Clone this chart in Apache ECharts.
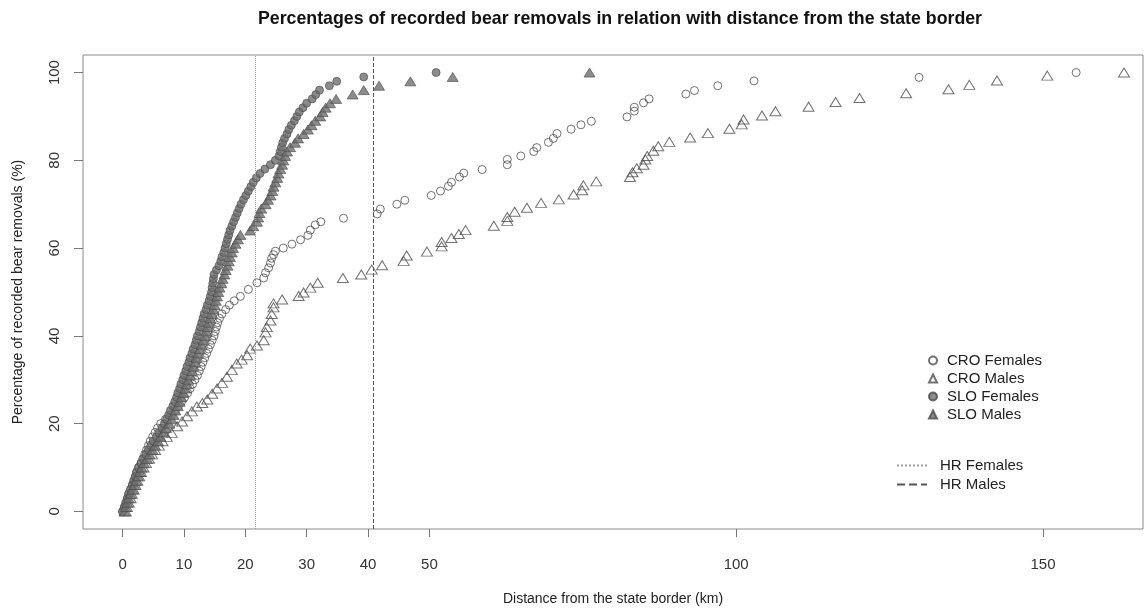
<!DOCTYPE html>
<html>
<head>
<meta charset="utf-8">
<script src="https://cdn.jsdelivr.net/npm/echarts@6/dist/echarts.min.js"></script>
<style>
  html, body { margin: 0; padding: 0; background: #fff; }
  #chart { width: 1144px; height: 611px; }
</style>
</head>
<body>
<div id="chart"></div>
<script>
// x tick labels (km) and y tick labels (%)
const xTicks = [0, 10, 20, 30, 40, 50, 100, 150];
const yTicks = [0, 20, 40, 60, 80, 100];

// home-range reference lines (km)
const hrFemales = 21.6;
const hrMales = 40.9;

// [distance km, cumulative %]
const croFemales = [
  [0,0],[0.3,1],[0.5,2],[0.8,3],[1,4],[1.3,5],[1.6,6],[1.8,7],[2.1,8],[2.3,9],[2.6,10],
  [3,11],[3.3,12],[3.6,13],[3.9,14],[4.2,15],[4.5,16],[4.9,17],[5.3,18],[5.7,19],[6.2,20],
  [7,21],[8,22],[8.6,23],[9.1,24],[9.6,25],[10.1,26],[10.6,27],[11,28],[11.4,29],[11.8,30],
  [12.2,31],[12.5,32],[12.8,33],[13.1,34],[13.4,35],[13.7,36],[14,37],[14.3,38],[14.6,39],
  [14.9,40],[15.1,41],[15.3,42],[15.5,43],[15.8,44],[16.2,45],[16.8,46],[17.4,47],[18.2,48],
  [19.2,49],[20.5,50.6],[21.9,52.1],[23,53.2],[23.3,54.4],[23.8,55.5],[24.1,56.6],[24.3,57.7],
  [24.6,58.5],[24.9,59.3],[26.2,60],[27.6,60.9],[29,61.9],[30.2,62.9],[30.6,64.1],[31.4,65.3],
  [32.3,66],[36,66.8],[41.5,67.8],[42,68.9],[44.7,70],[46,70.9],[50.3,72],[51.8,73],[53.1,74.1],
  [53.6,75],[54.9,76.2],[55.6,77.1],[58.6,77.9],[62.7,79],[62.7,80.2],[64.9,81],[67,82],
  [67.5,82.9],[69.4,84.1],[70.2,85],[70.8,86.1],[73.1,87.1],[74.7,88.1],[76.4,88.9],[82.2,89.9],
  [83.4,91.2],[83.4,92.1],[84.9,93.1],[85.8,94],[91.8,95.1],[93.2,95.9],[97,97],[102.9,98.1],
  [129.8,98.9],[155.4,100]
];

const croMales = [
  [0.5,0],[0.7,1],[1,2],[1.3,3],[1.5,4],[1.8,5],[2.1,6],[2.4,7],[2.7,8],[3,9],[3.4,10],
  [3.8,11],[4.3,12],[4.8,13],[5.3,14],[5.9,15],[6.5,16],[7.2,17],[8,17.9],[8.9,19.4],
  [9.7,20.5],[10.5,21.7],[11.3,22.8],[12.1,23.9],[13,24.7],[13.8,25.5],[14.6,26.8],[15.4,28],
  [16.2,29.3],[17,30.7],[17.8,32.2],[18.6,33.7],[19.4,34.6],[20.3,35.6],[20.8,37.1],[21.9,37.8],
  [23,39],[23.3,40.8],[23.5,42],[24.1,43.5],[24.3,45],[24.6,46.5],[24.6,47.4],[26,48.3],
  [28.7,49.1],[29.5,49.9],[30.6,51],[31.8,52.1],[35.9,53.2],[38.9,54],[40.6,55.1],[42.3,56.1],
  [45.8,57.1],[46.3,58.3],[49.6,59.2],[52,60.4],[52,61.4],[53.6,62.3],[54.8,63.2],[55.9,64.1],
  [60.5,65.1],[62.7,66.2],[62.7,67.1],[63.9,68.3],[65.9,69.2],[68.2,70.3],[71.1,71.1],[73.5,72.2],
  [74.9,73.2],[75.1,74.3],[77.2,75.2],[82.7,76.2],[83.1,77.3],[83.8,78.2],[84.9,79],[85.2,80.2],
  [85.5,81],[86.5,82.2],[87.3,83.2],[89.1,84.2],[92.5,85.2],[95.4,86.2],[98.9,87.2],[100.9,88.2],
  [101.2,89.3],[104.2,90.2],[106.4,91.2],[111.8,92.2],[116.2,93.3],[120.1,94.2],[127.7,95.3],
  [134.6,96.2],[138,97.2],[142.5,98.2],[150.7,99.3],[163.2,100]
];

const sloFemales = [
  [0,0],[0.3,1],[0.6,2],[0.8,3],[1,4],[1.3,5],[1.6,6],[1.9,7],[2.1,8],[2.3,9],[2.6,10],
  [3,11],[3.4,12],[3.8,13],[4.2,14],[4.6,15],[5,16],[5.5,17],[5.9,18],[6.4,19],[6.8,20],
  [7.2,21],[7.5,22],[7.8,23],[8.2,24],[8.5,25],[8.8,26],[9,27],[9.3,28],[9.5,29],[9.8,30],
  [10,31],[10.3,32],[10.5,33],[10.8,34],[11,35],[11.3,36],[11.5,37],[11.8,38],[12,39],[12.2,40],
  [12.5,41],[12.7,42],[12.9,43],[13.1,44],[13.3,45],[13.6,46],[13.8,47],[14.1,48],[14.3,49],
  [14.5,50],[14.6,51],[14.7,52],[14.8,53],[14.9,54],[15.3,55],[15.7,56],[16,57],[16.2,58],
  [16.5,59],[16.7,60],[16.9,61],[17.1,62],[17.3,63],[17.5,64],[17.8,65],[18.1,66],[18.4,67],
  [18.7,68],[19,69],[19.3,70],[19.7,71],[20.1,72],[20.5,73],[20.9,74],[21.3,75],[21.8,76],
  [22.4,77],[23.2,78],[24.1,79],[24.9,80],[25.5,81],[25.7,82],[25.9,83],[26.1,84],[26.4,85],
  [26.8,86],[27.1,87],[27.5,88],[28,89],[28.4,90],[28.8,91],[29.4,92],[30,93],[30.9,94],
  [31.5,95],[32.1,96],[33.7,97],[34.9,98],[39.3,99],[51.1,100]
];

const sloMales = [
  [0.3,0],[0.5,1],[0.8,2],[1,3],[1.3,4],[1.6,5],[1.9,6],[2.2,7],[2.5,8],[2.8,9],[3.1,10],
  [3.5,11],[4,12],[4.4,13],[4.9,14],[5.3,15],[5.8,16],[6.2,17],[6.7,18],[7.1,19],[7.6,20],
  [8,21],[8.3,22],[8.6,23],[9,24],[9.3,25],[9.6,26],[9.9,27],[10.2,28],[10.5,29],[10.7,30],
  [11,31],[11.3,32],[11.5,33],[11.8,34],[12,35],[12.3,36],[12.6,37],[12.9,38],[13.2,39],
  [13.5,40],[13.7,41],[13.9,42],[14.1,43],[14.3,44],[14.6,45],[14.8,46],[15,47],[15.2,48],
  [15.4,49],[15.6,50],[15.8,51],[16.1,52],[16.3,53],[16.6,54],[16.8,55],[17.1,56],[17.3,57],
  [17.5,58],[17.8,59],[18,60],[18.4,61],[18.8,62],[19.2,63],[20.8,64],[21.3,65],[21.9,66],
  [22.1,67],[22.3,68],[22.6,69],[23.3,70],[23.7,71],[24.1,72],[24.4,73],[24.6,74],[24.9,75],
  [25.2,76],[25.4,77],[25.7,78],[26,79],[26.2,80],[26.5,81],[26.8,82],[27.3,83],[28.1,84],
  [28.6,85],[29.5,86],[30.2,87],[30.8,88],[31.4,89],[32.2,90],[32.6,91],[33.1,92],[33.8,93],
  [34.8,94],[37.5,95],[39.3,96],[41.8,97],[46.9,98],[53.8,99],[76.1,100]
];

const FONT = '"Liberation Sans", Arial, sans-serif';

let chart = echarts.init(document.getElementById('chart'));

function openSeries(name, data, symbol, size) {
    return {
        name: name,
        type: 'scatter',
        data: data,
        symbol: symbol,
        symbolSize: size,
        itemStyle: { color: 'rgba(255,255,255,0)', borderColor: '#4d4d4d', borderWidth: 1 },
        emphasis: { disabled: true },
        z: 3
    };
}

function filledSeries(name, data, symbol, size) {
    return {
        name: name,
        type: 'scatter',
        data: data,
        symbol: symbol,
        symbolSize: size,
        itemStyle: { color: '#6f6f6f', borderColor: '#4a4a4a', borderWidth: 0.8 },
        emphasis: { disabled: true },
        z: 4
    };
}

function hrSeries(name, value, type, color) {
    return {
        name: name,
        type: 'line',
        data: [],
        symbol: 'none',
        itemStyle: { color: color },
        lineStyle: { type: type, color: color, width: 1 },
        markLine: {
            silent: true,
            symbol: 'none',
            label: { show: false },
            lineStyle: { type: type, color: color, width: 1 },
            data: [{ xAxis: value }]
        },
        z: 2
    };
}

chart.setOption({
    animation: false,
    textStyle: { fontFamily: FONT },
    title: {
        text: 'Percentages of recorded bear removals in relation with distance from the state border',
        left: 253,
        top: 5,
        textStyle: { fontFamily: FONT, fontSize: 17.75, fontWeight: 'bold', color: '#111' }
    },
    grid: {
        left: 83, right: 1, top: 55, bottom: 77,
        show: true, borderColor: '#8a8a8a', borderWidth: 1
    },
    xAxis: {
        type: 'value',
        min: -6.45,
        max: 166.3,
        name: 'Distance from the state border (km)',
        nameLocation: 'middle',
        nameGap: 63,
        nameTextStyle: { fontFamily: FONT, fontSize: 14, color: '#222' },
        axisLine: { show: false, onZero: false },
        splitLine: { show: false },
        axisTick: { show: true, length: 8, customValues: xTicks, lineStyle: { color: '#777' } },
        axisLabel: { customValues: xTicks, margin: 28, fontSize: 15, color: '#333', fontFamily: FONT }
    },
    yAxis: {
        type: 'value',
        min: -4,
        max: 104,
        name: 'Percentage of recorded bear removals (%)',
        nameLocation: 'middle',
        nameGap: 58,
        nameTextStyle: { fontFamily: FONT, fontSize: 14, color: '#222' },
        axisLine: { show: false, onZero: false },
        splitLine: { show: false },
        axisTick: { show: true, length: 9, customValues: yTicks, lineStyle: { color: '#777' } },
        axisLabel: { customValues: yTicks, rotate: 90, margin: 21, fontSize: 15, color: '#333', fontFamily: FONT }
    },
    legend: [{
        data: ['CRO Females', 'CRO Males', 'SLO Females', 'SLO Males'],
        orient: 'vertical',
        left: 923,
        top: 348,
        itemWidth: 8,
        itemHeight: 8,
        itemGap: 3,
        selectedMode: false,
        textStyle: { fontFamily: FONT, fontSize: 15, color: '#222', padding: [0, 0, 0, 5] }
    }, {
        data: ['HR Females', 'HR Males'],
        orient: 'vertical',
        left: 891,
        top: 453,
        itemWidth: 30,
        itemHeight: 10,
        itemGap: 4,
        selectedMode: false,
        itemStyle: { opacity: 0 },
        textStyle: { fontFamily: FONT, fontSize: 15, color: '#222', padding: [0, 0, 0, 8] }
    }],
    series: [
        hrSeries('HR Females', hrFemales, 'dotted', '#9a9a9a'),
        hrSeries('HR Males', hrMales, 'dashed', '#555'),
        openSeries('CRO Females', croFemales, 'circle', 8),
        openSeries('CRO Males', croMales, 'triangle', [11, 9]),
        filledSeries('SLO Females', sloFemales, 'circle', 8),
        filledSeries('SLO Males', sloMales, 'triangle', [11, 9])
    ]
});

window.onresize = function () {
    chart.resize();
};
</script>
</body>
</html>
